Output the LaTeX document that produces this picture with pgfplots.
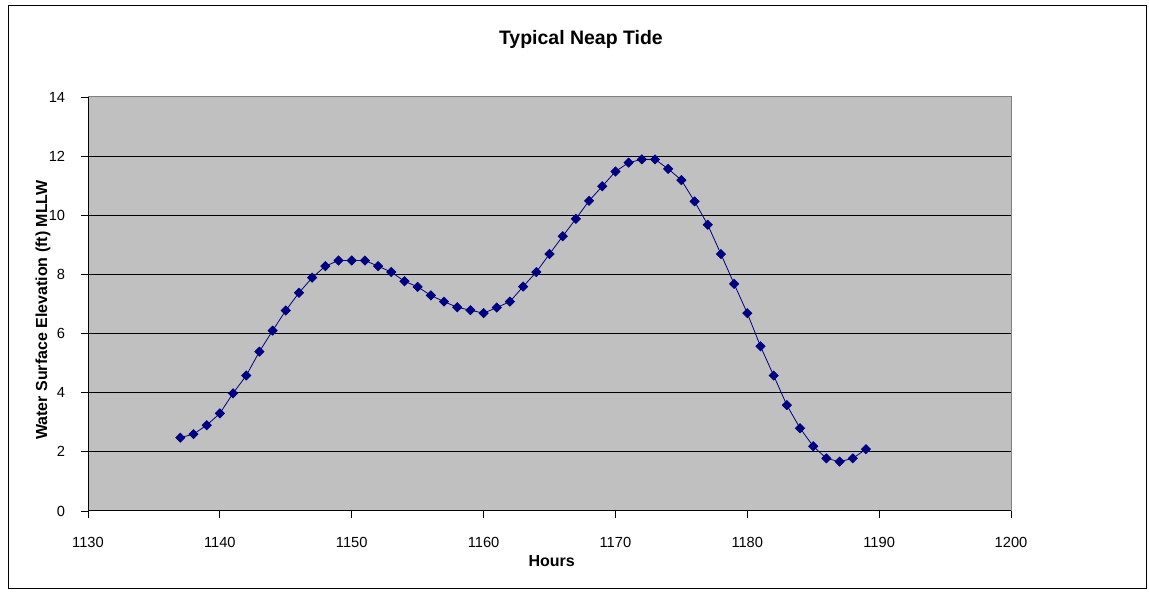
\documentclass[border=0pt]{standalone}
\usepackage{pgfplots}
\pgfplotsset{compat=1.18}
\usepackage{fontspec}
\setmainfont{Liberation Sans}
\definecolor{plotbg}{HTML}{C0C0C0}
\definecolor{navyblue}{HTML}{000080}
\begin{document}
\begin{tikzpicture}
\path[use as bounding box] (0pt,0pt) rectangle (861.75pt,444pt);
\draw[black, line width=0.75pt] (6pt,2.25pt) rectangle (859.5pt,439.5pt);
\begin{axis}[
  at={(66pt,60.75pt)}, anchor=south west,
  scale only axis,
  width=692.25pt, height=310.5pt,
  xmin=1130, xmax=1200, ymin=0, ymax=14,
  xtick={1130,1140,...,1200},
  ytick={0,2,...,14},
  xtick pos=bottom, ytick pos=left,
  tick align=outside,
  major tick length=5pt,
  tick style={black, line width=0.6pt},
  axis background/.style={fill=plotbg},
  axis line style={draw=gray, line width=0.75pt},
  ymajorgrids,
  grid style={black, line width=0.75pt},
  /pgf/number format/assume math mode=true,
  /pgf/number format/set thousands separator={},
  xticklabel style={font=\fontsize{11}{13}\selectfont, anchor=center, inner sep=0pt, yshift=-18.75pt},
  yticklabel style={font=\fontsize{11}{13}\selectfont, anchor=east, inner sep=0pt, xshift=-12pt},
  clip=false,
]
\addplot[color=navyblue, line width=0.6pt, mark=square*, mark size=2.4pt, mark options={fill=navyblue, draw=navyblue, rotate=45}] coordinates {
(1137,2.48) (1138,2.6) (1139,2.9) (1140,3.3) (1141,3.98) (1142,4.58) (1143,5.39)
(1144,6.1) (1145,6.78) (1146,7.38) (1147,7.89) (1148,8.28) (1149,8.47) (1150,8.47)
(1151,8.47) (1152,8.28) (1153,8.08) (1154,7.77) (1155,7.58) (1156,7.29) (1157,7.08)
(1158,6.89) (1159,6.79) (1160,6.69) (1161,6.88) (1162,7.08) (1163,7.59) (1164,8.08)
(1165,8.69) (1166,9.29) (1167,9.88) (1168,10.49) (1169,10.98) (1170,11.48) (1171,11.78)
(1172,11.89) (1173,11.89) (1174,11.57) (1175,11.19) (1176,10.47) (1177,9.68) (1178,8.69)
(1179,7.68) (1180,6.69) (1181,5.57) (1182,4.58) (1183,3.58) (1184,2.8) (1185,2.19)
(1186,1.78) (1187,1.67) (1188,1.78) (1189,2.09)
};
\draw[black, line width=0.75pt] (rel axis cs:0,1) -- (rel axis cs:0,0) -- (rel axis cs:1,0);
\node[font=\bfseries\fontsize{14.6}{17}\selectfont, anchor=center, inner sep=0pt] at (axis description cs:0.534,1.1401) {Typical Neap Tide};
\node[font=\bfseries\fontsize{12}{14}\selectfont, anchor=center, inner sep=0pt] at (axis description cs:0.5024,-0.1208) {Hours};
\node[font=\bfseries\fontsize{12}{14}\selectfont, anchor=center, inner sep=0pt, rotate=90] at (axis description cs:-0.0488,0.4855) {Water Surface Elevation (ft) MLLW};
\end{axis}
\end{tikzpicture}
\end{document}
